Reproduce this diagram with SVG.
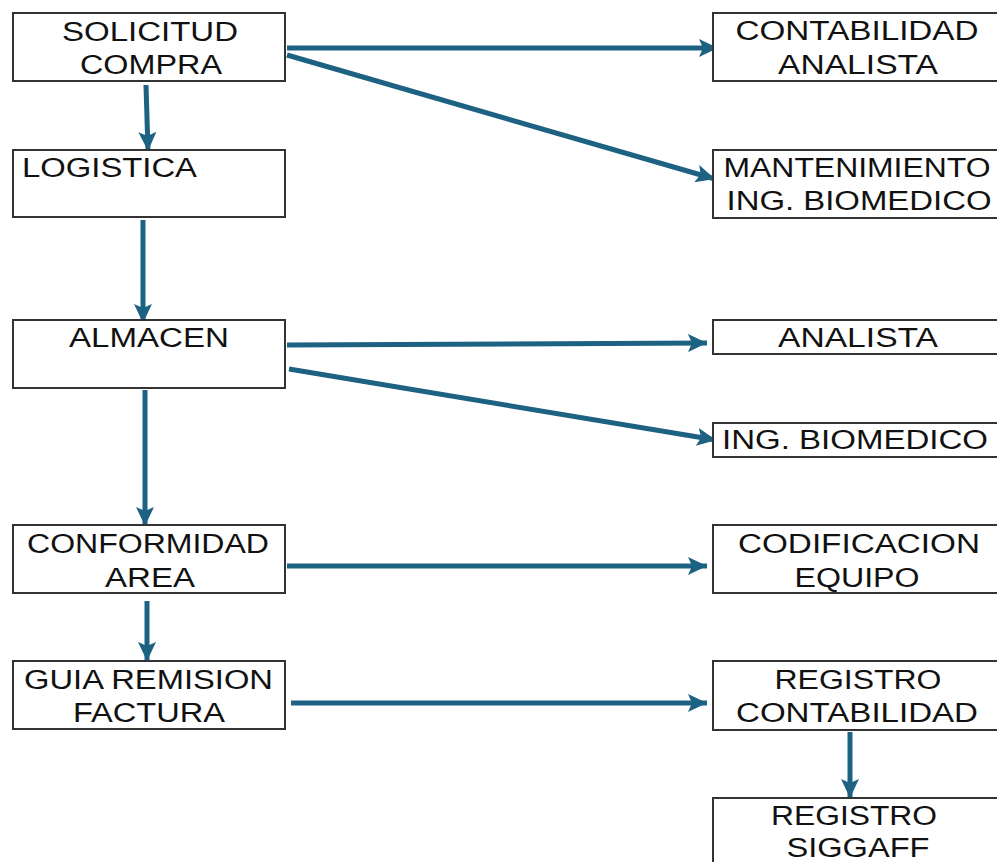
<svg xmlns="http://www.w3.org/2000/svg" width="997" height="862" viewBox="0 0 997 862">
<style>
.box{fill:#fff;stroke:#333;stroke-width:2}
.t{font-family:"Liberation Sans",Arial,sans-serif;font-size:27px;fill:#111;text-anchor:middle}
.tl{text-anchor:start}
.c{fill:none;stroke:#1d6183;stroke-width:5;marker-end:url(#ah)}
</style>
<defs>
<marker id="ah" markerUnits="userSpaceOnUse" markerWidth="20" markerHeight="18" viewBox="0 0 20 18" refX="19" refY="9" orient="auto">
<path d="M0,0 L19,9 L0,18 L4,9 z" fill="#1d6183"/>
</marker>
</defs>
<rect width="997" height="862" fill="#fff"/>
<g id="connectors">
<line class="c" x1="287" y1="48" x2="718" y2="48"/>
<line class="c" x1="287" y1="55" x2="715" y2="179"/>
<line class="c" x1="146" y1="85" x2="148" y2="151"/>
<line class="c" x1="143" y1="220" x2="143" y2="323"/>
<line class="c" x1="287" y1="345" x2="707" y2="343"/>
<line class="c" x1="289" y1="369" x2="716" y2="440"/>
<line class="c" x1="145" y1="390" x2="145" y2="526"/>
<line class="c" x1="287" y1="566" x2="707" y2="566"/>
<line class="c" x1="147" y1="601" x2="147" y2="661"/>
<line class="c" x1="291" y1="703" x2="707" y2="703"/>
<line class="c" x1="850" y1="732" x2="850" y2="798"/>
</g>
<g id="solicitud"><rect class="box" x="13" y="13" width="272" height="68"/>
<text class="t" x="150" y="40.5" textLength="176" lengthAdjust="spacingAndGlyphs">SOLICITUD</text>
<text class="t" x="151" y="74" textLength="142" lengthAdjust="spacingAndGlyphs">COMPRA</text></g>
<g id="logistica"><rect class="box" x="13" y="150" width="272" height="67"/>
<text class="t tl" x="22" y="176.5" textLength="175" lengthAdjust="spacingAndGlyphs">LOGISTICA</text></g>
<g id="almacen"><rect class="box" x="13" y="320" width="272" height="68"/>
<text class="t" x="149" y="346.5" textLength="160" lengthAdjust="spacingAndGlyphs">ALMACEN</text></g>
<g id="conformidad"><rect class="box" x="13" y="525" width="272" height="68"/>
<text class="t" x="148" y="553" textLength="242" lengthAdjust="spacingAndGlyphs">CONFORMIDAD</text>
<text class="t" x="150" y="587" textLength="90" lengthAdjust="spacingAndGlyphs">AREA</text></g>
<g id="guia"><rect class="box" x="13" y="661" width="272" height="68"/>
<text class="t" x="148.5" y="688.5" textLength="249" lengthAdjust="spacingAndGlyphs">GUIA REMISION</text>
<text class="t" x="149" y="722" textLength="152" lengthAdjust="spacingAndGlyphs">FACTURA</text></g>
<g id="contabilidad-analista"><rect class="box" x="713" y="13" width="292" height="68"/>
<text class="t" x="857" y="39.5" textLength="243" lengthAdjust="spacingAndGlyphs">CONTABILIDAD</text>
<text class="t" x="858" y="73.5" textLength="160" lengthAdjust="spacingAndGlyphs">ANALISTA</text></g>
<g id="mantenimiento"><rect class="box" x="713" y="150" width="292" height="68"/>
<text class="t" x="857" y="177" textLength="267" lengthAdjust="spacingAndGlyphs">MANTENIMIENTO</text>
<text class="t" x="859" y="210" textLength="265" lengthAdjust="spacingAndGlyphs">ING. BIOMEDICO</text></g>
<g id="analista"><rect class="box" x="713" y="320" width="292" height="34"/>
<text class="t" x="858" y="347" textLength="160" lengthAdjust="spacingAndGlyphs">ANALISTA</text></g>
<g id="ing-biomedico"><rect class="box" x="713" y="423" width="292" height="34"/>
<text class="t" x="855" y="448.5" textLength="266" lengthAdjust="spacingAndGlyphs">ING. BIOMEDICO</text></g>
<g id="codificacion"><rect class="box" x="713" y="525" width="292" height="68"/>
<text class="t" x="859" y="553" textLength="242" lengthAdjust="spacingAndGlyphs">CODIFICACION</text>
<text class="t" x="857" y="587" textLength="125" lengthAdjust="spacingAndGlyphs">EQUIPO</text></g>
<g id="registro-contabilidad"><rect class="box" x="713" y="661" width="292" height="69"/>
<text class="t" x="858" y="688.5" textLength="167" lengthAdjust="spacingAndGlyphs">REGISTRO</text>
<text class="t" x="857" y="722" textLength="242" lengthAdjust="spacingAndGlyphs">CONTABILIDAD</text></g>
<g id="registro-siggaff"><rect class="box" x="713" y="798" width="292" height="80"/>
<text class="t" x="854" y="825" textLength="166" lengthAdjust="spacingAndGlyphs">REGISTRO</text>
<text class="t" x="858" y="857" textLength="143" lengthAdjust="spacingAndGlyphs">SIGGAFF</text></g>
</svg>
